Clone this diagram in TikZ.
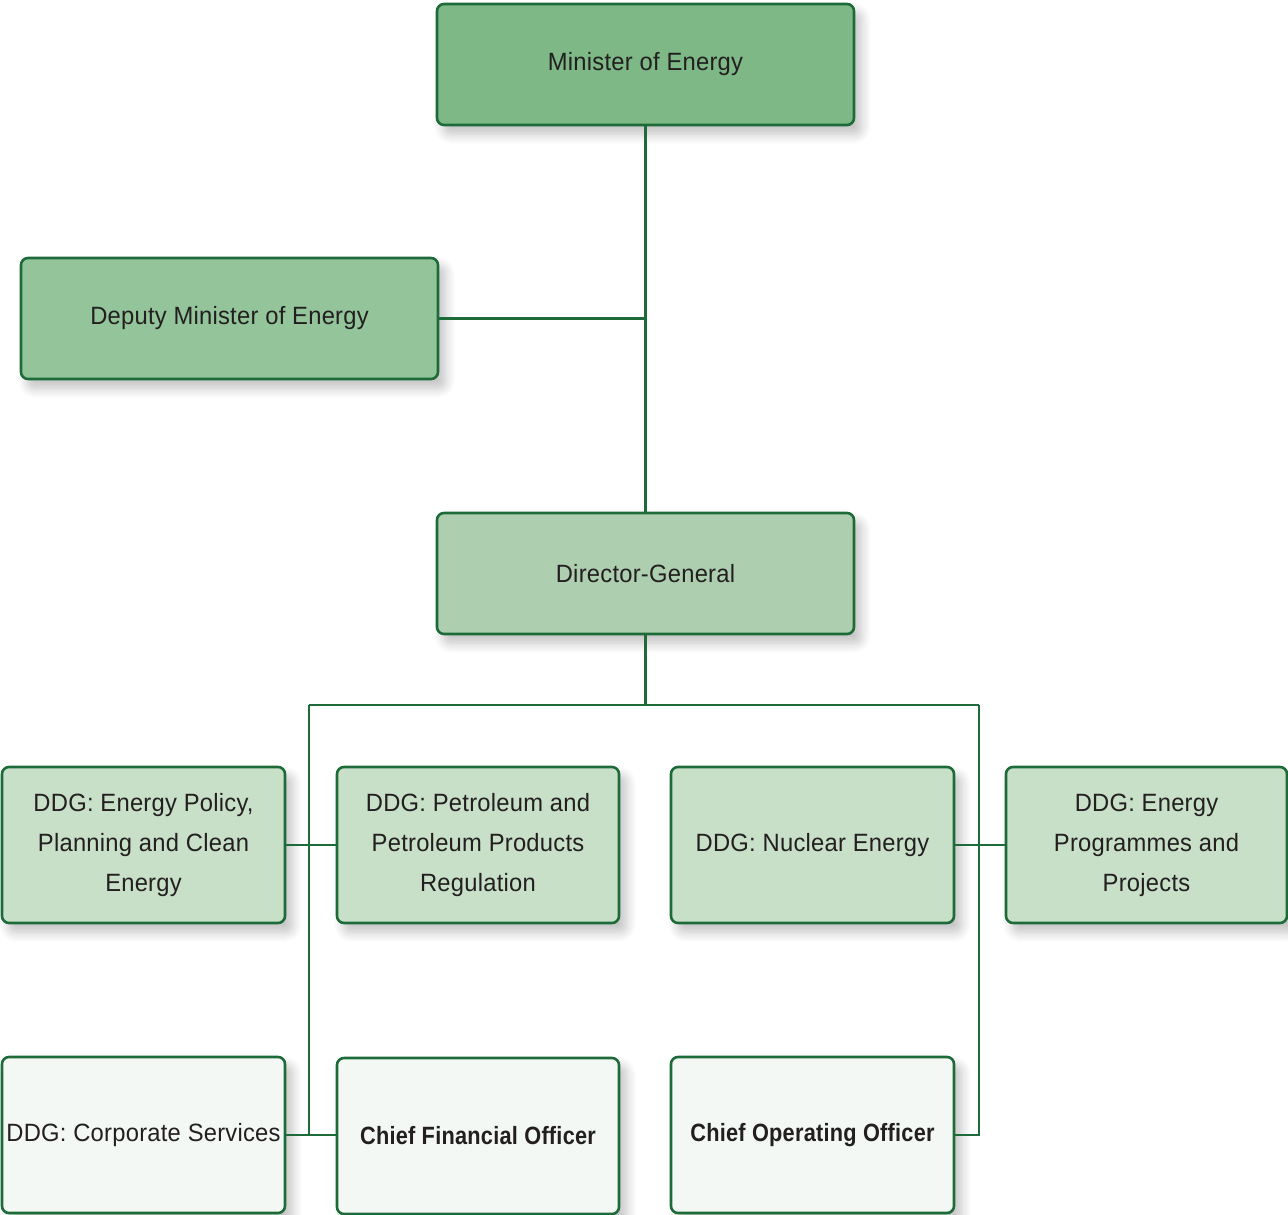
\documentclass[tikz,border=0pt]{standalone}
\usepackage{fontspec}
\setmainfont{Liberation Sans}[FakeStretch=0.95, LetterSpace=1, BoldFeatures={FakeStretch=0.87}]
\usetikzlibrary{shadows.blur}
\definecolor{edge}{HTML}{1E6B3A}
\definecolor{txt}{HTML}{231F20}
\definecolor{fA}{HTML}{7DB886}
\definecolor{fB}{HTML}{93C49A}
\definecolor{fC}{HTML}{AECFAF}
\definecolor{fD}{HTML}{C8DFC8}
\definecolor{fE}{HTML}{F4F8F4}
\tikzset{
  box/.style={draw=edge, line width=2.6pt, rounded corners=7pt, align=center,
    text=txt, font=\fontsize{25}{40}\selectfont, inner sep=0pt,
    blur shadow={shadow xshift=7pt, shadow yshift=-9pt, shadow blur radius=10pt, shadow blur steps=10, shadow opacity=25}},
  wide/.style={box, minimum width=417pt, minimum height=121pt},
  cell/.style={box, minimum height=156pt},
  conn/.style={draw=edge, line width=2.6pt}
}
\begin{document}
\begin{tikzpicture}[x=1pt,y=-1pt]
\useasboundingbox (0,0) rectangle (1288,1215);
\node[wide, fill=fA] (min) at (645.5,64.5) {Minister of Energy};
\node[wide, fill=fB] (dep) at (229.5,318.5) {Deputy Minister of Energy};
\node[wide, fill=fC] (dg) at (645.5,573.5) {Director-General};

\node[cell, fill=fD, minimum width=283pt] (epp) at (143.5,845) {DDG: Energy Policy,\\Planning and Clean\\Energy};
\node[cell, fill=fD, minimum width=282pt] (pet) at (478,845) {DDG: Petroleum and\\Petroleum Products\\Regulation};
\node[cell, fill=fD, minimum width=283pt] (nuc) at (812.5,845) {DDG: Nuclear Energy};
\node[cell, fill=fD, minimum width=281pt] (prog) at (1146.5,845) {DDG: Energy\\Programmes and\\Projects};

\node[cell, fill=fE, minimum width=283pt] (cs) at (143.5,1135) {DDG: Corporate Services};
\node[cell, fill=fE, minimum width=282pt, font=\fontsize{25}{40}\selectfont\bfseries] (cfo) at (478,1136) {Chief Financial Officer};
\node[cell, fill=fE, minimum width=283pt, font=\fontsize{25}{40}\selectfont\bfseries] (coo) at (812.5,1135) {Chief Operating Officer};

\coordinate (j) at (645.5,705);
\coordinate (jl) at (309,705);
\coordinate (jr) at (979,705);

\draw[conn] (min.south) -- (dg.north);
\draw[conn] (dep.east) -- (min.south |- dep.east);
\draw[conn] (dg.south) -- (j);
\draw[conn] (jl) -- (jr);
\draw[conn] (jl) -- (jl |- cs.east);
\draw[conn] (epp.east) -- (pet.west);
\draw[conn] (nuc.east) -- (prog.west);
\draw[conn] (cs.east) -- (cs.east -| cfo.west);
\draw[conn] (coo.east) -| (jr);
\end{tikzpicture}
\end{document}
